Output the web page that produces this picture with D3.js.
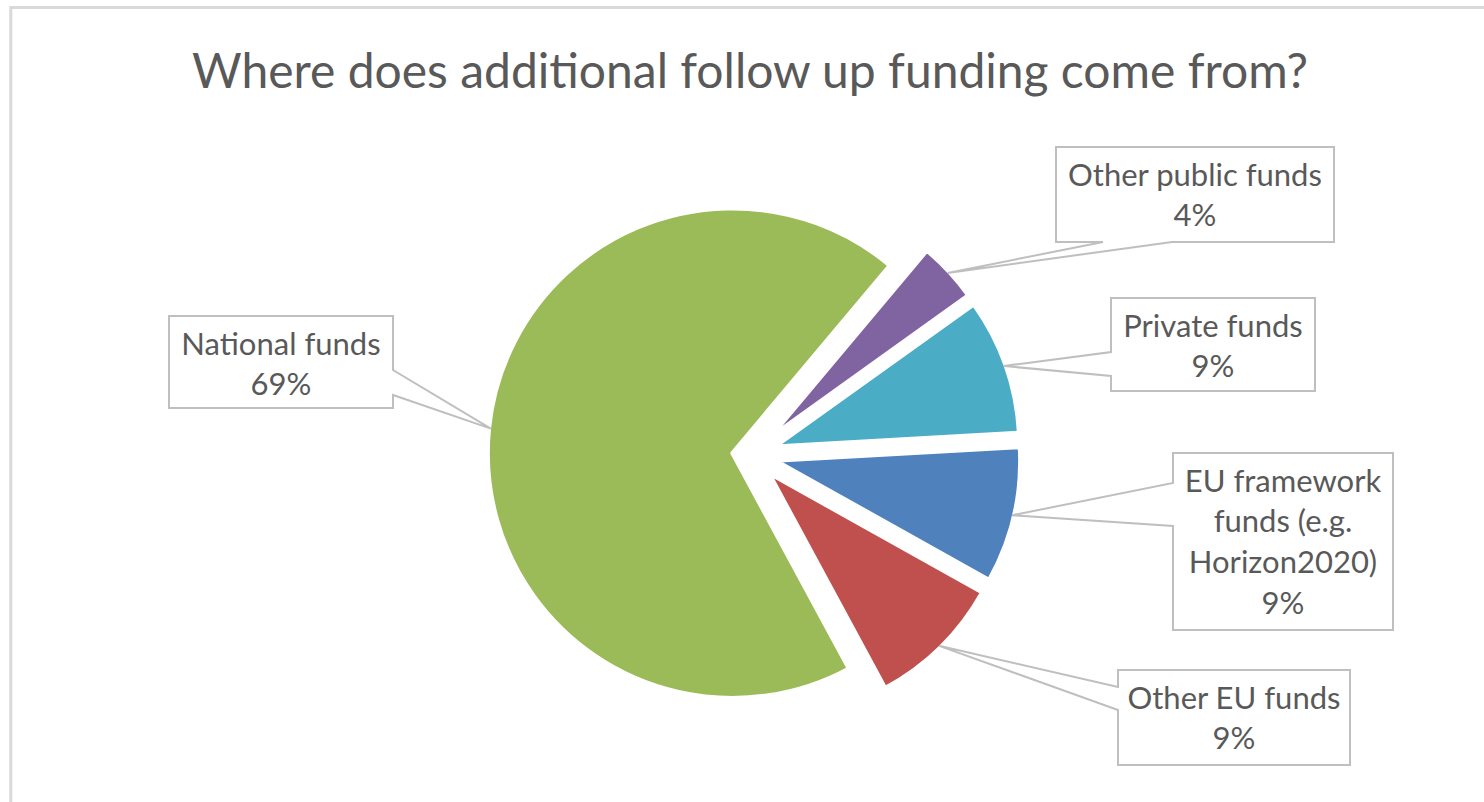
<!DOCTYPE html>
<html>
<head>
<meta charset="utf-8">
<script src="https://cdn.jsdelivr.net/npm/d3@7"></script>
<style>
  html, body { margin: 0; padding: 0; background: #ffffff; }
  svg { display: block; }
</style>
</head>
<body>
<svg id="chart" width="1484" height="802"></svg>
<script>
// ---------------- DATA ----------------
const chartTitle = "Where does additional follow up funding come from?";
const categories = [
  "Other public funds",
  "Private funds",
  "EU framework funds (e.g. Horizon2020)",
  "Other EU funds",
  "National funds"
];
const values = [4, 9, 9, 9, 69];            // percent shares
const labelLines = [
  ["Other public funds"],
  ["Private funds"],
  ["EU framework", "funds (e.g.", "Horizon2020)"],
  ["Other EU funds"],
  ["National funds"]
];

// ---------------- STYLE / LAYOUT ----------------
const sliceColors = ["#8064A2", "#4BACC6", "#4F81BD", "#C0504D", "#9BBB59"];
const explodeBy   = [25, 25, 25, 25, 18.5];
const pieCenter   = [751, 455];
const pieRadius   = 245;
const startDeg    = 40;
const textColor   = "#595959";
const boxStroke   = "#bfbfbf";
const fontFamily  = "Lato, 'Open Sans', 'Liberation Sans', sans-serif";
// callout boxes: x, y, w, h, side where the pointer leaves, pointer base coords along that side
const calloutBoxes = [
  { x: 1056, y: 147, w: 278, h: 95,  side: "bottom", p: [1103, 1172] },
  { x: 1111, y: 298, w: 204, h: 93,  side: "left",   p: [352, 376] },
  { x: 1173, y: 453, w: 220, h: 177, side: "left",   p: [483, 526] },
  { x: 1118, y: 670, w: 232, h: 95,  side: "left",   p: [687, 710] },
  { x: 169,  y: 316, w: 224, h: 92,  side: "right",  p: [370, 395] }
];

const svg = d3.select("#chart");

// chart frame
svg.append("rect")
  .attr("x", 10.8).attr("y", 7.5)
  .attr("width", 1600).attr("height", 1000)
  .attr("fill", "#ffffff")
  .attr("stroke", "#d9d9d9")
  .attr("stroke-width", 3);

// title
svg.append("text")
  .attr("x", 750).attr("y", 88)
  .attr("text-anchor", "middle")
  .attr("font-family", fontFamily)
  .attr("font-size", 48)
  .attr("fill", textColor)
  .text(chartTitle);

// pie
const startRad = startDeg * Math.PI / 180;
const pie = d3.pie().sort(null).value(d => d)
  .startAngle(startRad).endAngle(startRad + 2 * Math.PI);
const arcs = pie(values);
const arcGen = d3.arc().innerRadius(0).outerRadius(pieRadius);

const sliceCenter = (a, i) => {
  const mid = (a.startAngle + a.endAngle) / 2;
  return [pieCenter[0] + Math.sin(mid) * explodeBy[i],
          pieCenter[1] - Math.cos(mid) * explodeBy[i]];
};

svg.append("g").selectAll("path")
  .data(arcs)
  .join("path")
  .attr("transform", (a, i) => { const c = sliceCenter(a, i); return `translate(${c[0]},${c[1]})`; })
  .attr("d", arcGen)
  .attr("fill", (a, i) => sliceColors[i])
  .attr("stroke", "#ffffff")
  .attr("stroke-width", 4.5)
  .attr("stroke-linejoin", "round");

// callouts
function calloutPath(b, tip) {
  const L = b.x, R = b.x + b.w, T = b.y, B = b.y + b.h;
  const pts = [[L, T], [R, T]];
  if (b.side === "right") pts.push([R, b.p[0]], tip, [R, b.p[1]]);
  pts.push([R, B]);
  if (b.side === "bottom") pts.push([b.p[1], B], tip, [b.p[0], B]);
  pts.push([L, B]);
  if (b.side === "left") pts.push([L, b.p[1]], tip, [L, b.p[0]]);
  return "M" + pts.map(p => p.join(",")).join("L") + "Z";
}

const labels = svg.append("g");
arcs.forEach((a, i) => {
  const c = sliceCenter(a, i);
  const mid = (a.startAngle + a.endAngle) / 2;
  const tipR = pieRadius - 2;
  const tip = [c[0] + Math.sin(mid) * tipR, c[1] - Math.cos(mid) * tipR];
  const b = calloutBoxes[i];
  labels.append("path")
    .attr("d", calloutPath(b, tip))
    .attr("fill", "#ffffff")
    .attr("stroke", boxStroke)
    .attr("stroke-width", 2)
    .attr("stroke-linejoin", "miter");
  const lines = labelLines[i].concat([d3.format(".0%")(values[i] / d3.sum(values))]);
  const t = labels.append("text")
    .attr("text-anchor", "middle")
    .attr("font-family", fontFamily)
    .attr("font-size", 31)
    .attr("fill", textColor);
  lines.forEach((ln, k) => {
    t.append("tspan")
      .attr("x", b.x + b.w / 2)
      .attr("y", b.y + 38.5 + k * 40.7)
      .text(ln);
  });
});
</script>
</body>
</html>
